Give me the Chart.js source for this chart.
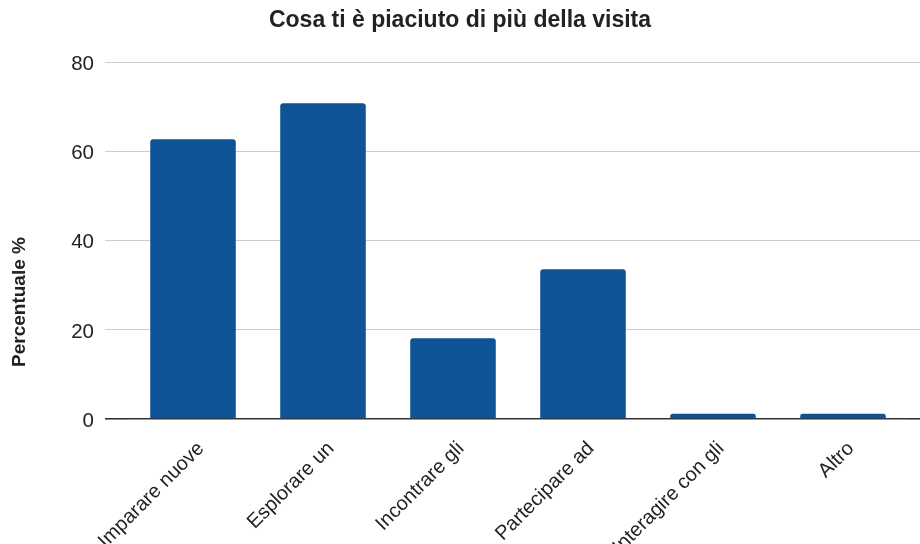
<!DOCTYPE html>
<html>
<head>
<meta charset="utf-8">
<script src="https://cdn.jsdelivr.net/npm/chart.js@4/dist/chart.umd.min.js"></script>
<style>
  html, body { margin: 0; padding: 0; background: #ffffff; }
  #wrap { width: 920px; height: 544px; }
</style>
</head>
<body>
<div id="wrap"><canvas id="c" width="920" height="544"></canvas></div>
<script>
// Survey answers: what visitors liked most about the visit
const categories = ['Imparare nuove', 'Esplorare un', 'Incontrare gli', 'Partecipare ad', 'Interagire con gli', 'Altro'];
const percentages = [62.8, 70.9, 18.1, 33.6, 1.2, 1.2];
const yTicks = [0, 20, 40, 60, 80];

const FONT = "'Liberation Sans', Arial, Helvetica, sans-serif";
const BAR = '#0e5395';
const GRID = '#cccccc';
const ZERO = '#333333';

// Vertical axis title, placed a little below the axis midpoint
const yTitlePlugin = {
  id: 'yTitle',
  afterDraw(chart) {
    const ctx = chart.ctx;
    ctx.save();
    ctx.translate(20, 302);
    ctx.rotate(-Math.PI / 2);
    ctx.font = 'bold 19px ' + FONT;
    ctx.fillStyle = '#222222';
    ctx.textAlign = 'center';
    ctx.textBaseline = 'middle';
    ctx.fillText('Percentuale %', 0, 0);
    ctx.restore();
  }
};

const gridColor = (c) => (c.tick && c.tick.value === 0 ? ZERO : GRID);
const gridWidth = (c) => (c.tick && c.tick.value === 0 ? 1.6 : 1);

new Chart(document.getElementById('c'), {
  type: 'bar',
  data: {
    labels: categories,
    datasets: [{
      data: percentages,
      backgroundColor: BAR,
      borderWidth: 0,
      borderRadius: { topLeft: 3, topRight: 3, bottomLeft: 0, bottomRight: 0 },
      borderSkipped: 'start',
      categoryPercentage: 1,
      barPercentage: 0.658
    }]
  },
  options: {
    responsive: false,
    animation: false,
    events: [],
    layout: { padding: { left: 0, right: 0, top: 0, bottom: 0 } },
    plugins: {
      legend: { display: false },
      tooltip: { enabled: false },
      title: {
        display: true,
        text: 'Cosa ti è piaciuto di più della visita',
        color: '#222222',
        font: { family: FONT, size: 23, weight: 'bold' },
        padding: { top: 7, bottom: 28 }
      }
    },
    scales: {
      x: {
        offset: true,
        grid: { display: false },
        border: { display: false },
        ticks: {
          color: '#222222',
          font: { family: FONT, size: 20 },
          minRotation: 45,
          maxRotation: 45,
          autoSkip: false,
          padding: 10,
          labelOffset: 8
        },
        afterFit(scale) { scale.height = 125; }
      },
      y: {
        min: 0,
        max: 80,
        afterBuildTicks(scale) { scale.ticks = yTicks.map(v => ({ value: v })); },
        grid: { color: gridColor, tickColor: gridColor, lineWidth: gridWidth, tickLength: 23 },
        border: { display: false },
        ticks: {
          color: '#222222',
          font: { family: FONT, size: 20.5 },
          padding: 11,
          labelOffset: 2
        },
        afterFit(scale) { scale.width = 128; }
      },
      yRight: {
        position: 'right',
        min: 0,
        max: 80,
        afterBuildTicks(scale) { scale.ticks = yTicks.map(v => ({ value: v })); },
        grid: { drawOnChartArea: false, color: gridColor, tickColor: gridColor, lineWidth: gridWidth, tickLength: 12 },
        border: { display: false },
        ticks: { display: false },
        afterFit(scale) { scale.width = 12; }
      }
    }
  },
  plugins: [yTitlePlugin]
});
</script>
</body>
</html>
